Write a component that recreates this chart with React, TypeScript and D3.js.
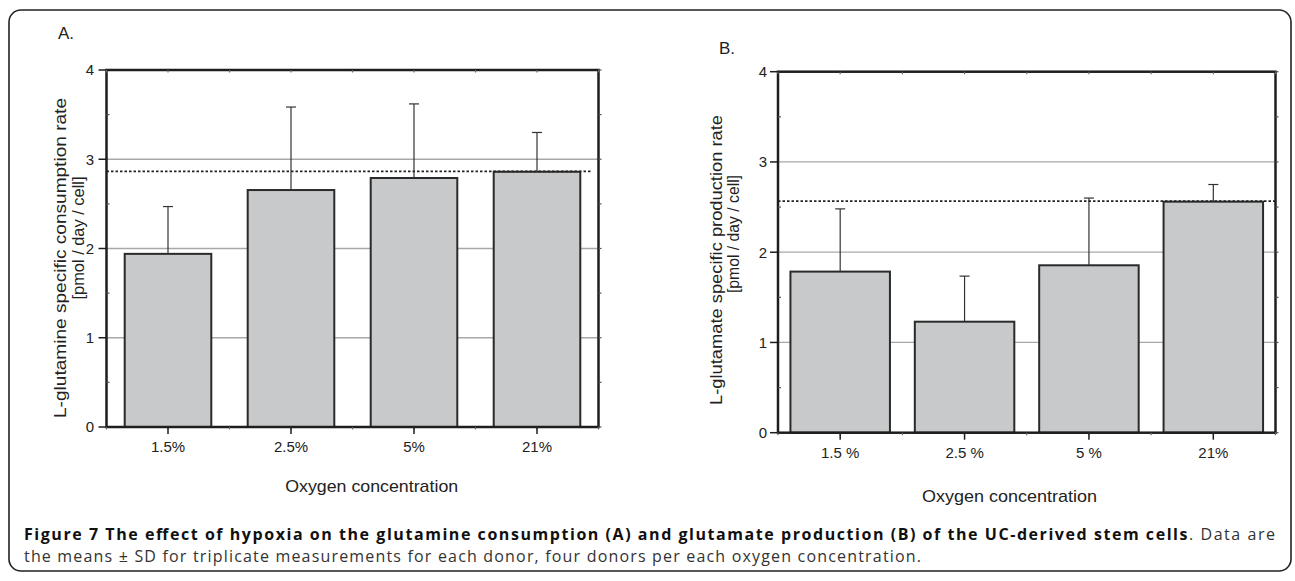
import React from "react";
import * as d3 from "d3";

// ---- data ----
const categoriesA = ["1.5%", "2.5%", "5%", "21%"];
const meansA = [1.94, 2.655, 2.79, 2.86];
const sdA = [0.53, 0.93, 0.83, 0.44];
const referenceA = 2.865;

const categoriesB = ["1.5 %", "2.5 %", "5 %", "21%"];
const meansB = [1.785, 1.23, 1.855, 2.56];
const sdB = [0.695, 0.505, 0.745, 0.19];
const referenceB = 2.567;

const yTicks = [0, 1, 2, 3, 4];
const gridValues = [1, 2, 3];
const minorValues = [0.5, 1.5, 2.5, 3.5];
const yTitleA = ["L-glutamine specific consumption rate", "[pmol / day / cell]"];
const yTitleB = ["L-glutamate specific production rate", "[pmol / day / cell]"];
const xTitle = "Oxygen concentration";

const CHART_FONT = "'Liberation Sans', Arial, Helvetica, sans-serif";
const CAPTION_FONT = "'Open Sans', 'Noto Sans', sans-serif";

type PanelProps = {
  left: number; right: number; top: number; bottom: number;
  categories: string[]; means: number[]; sds: number[]; reference: number;
  refEnd: number; padding: number; tickLabelX: number; xLabelBaseline: number;
  titles: { text: string; x: number; y: number; len: number }[];
  xTitlePos: { x: number; y: number; len: number };
  label: { text: string; x: number; y: number };
};

function Panel(p: PanelProps) {
  const x = d3.scaleBand<string>().domain(p.categories).range([p.left, p.right])
    .paddingInner(p.padding).paddingOuter(p.padding / 2);
  const y = d3.scaleLinear().domain([0, 4]).range([p.bottom, p.top]);
  const step = x.step();
  const halfSteps = d3.range(0, p.categories.length * 2 + 1).map((i) => p.left + (i * step) / 2);
  const centers = p.categories.map((c) => (x(c) as number) + x.bandwidth() / 2);
  return (
    <g>
      <text x={p.label.x} y={p.label.y} fontSize={17} fontFamily={CHART_FONT} fill="#222">{p.label.text}</text>
      {gridValues.map((v) => (
        <line key={"g" + v} x1={p.left} x2={p.right} y1={y(v)} y2={y(v)} stroke="#a8a8a8" strokeWidth={1.3} />
      ))}
      {p.categories.map((c, i) => (
        <rect key={"b" + c} x={x(c)} y={y(p.means[i])} width={x.bandwidth()} height={y(0) - y(p.means[i])}
          fill="#c8c9cb" stroke="#2a2a2a" strokeWidth={2} />
      ))}
      {p.categories.map((c, i) => {
        const cx = centers[i];
        const yt = y(p.means[i] + p.sds[i]);
        return (
          <g key={"e" + c} stroke="#333" strokeWidth={1.2}>
            <line x1={cx} x2={cx} y1={y(p.means[i])} y2={yt} />
            <line x1={cx - 5} x2={cx + 5} y1={yt} y2={yt} />
          </g>
        );
      })}
      <line x1={p.left} x2={p.refEnd} y1={y(p.reference)} y2={y(p.reference)} stroke="#222"
        strokeWidth={1.8} strokeDasharray="2.5 2" />
      {/* frame */}
      <rect x={p.left} y={p.top} width={p.right - p.left} height={p.bottom - p.top} fill="none" stroke="#1e1e1e" strokeWidth={2.5} />
      {/* left major ticks */}
      {yTicks.map((v) => (
        <g key={"yt" + v}>
          <line x1={p.left - 8} x2={p.left} y1={y(v)} y2={y(v)} stroke="#1e1e1e" strokeWidth={1.5} />
          <text x={p.tickLabelX} y={y(v)} dy="0.36em" textAnchor="end" fontSize={15} fontFamily={CHART_FONT} fill="#222">{v}</text>
          <line x1={p.right} x2={p.right + 3} y1={y(v)} y2={y(v)} stroke="#555" strokeWidth={1.2} />
        </g>
      ))}
      {minorValues.map((v) => (
        <g key={"mt" + v} stroke="#555" strokeWidth={1.2}>
          <line x1={p.left} x2={p.left + 3} y1={y(v)} y2={y(v)} />
          <line x1={p.right} x2={p.right + 3} y1={y(v)} y2={y(v)} />
        </g>
      ))}
      {halfSteps.map((hx, i) => (
        <g key={"hs" + i} stroke="#666" strokeWidth={1.2}>
          <line x1={hx} x2={hx} y1={p.top} y2={p.top + 2.5} />
          <line x1={hx} x2={hx} y1={p.bottom} y2={p.bottom + 2.5} />
        </g>
      ))}
      {p.categories.map((c, i) => (
        <g key={"xt" + c}>
          <line x1={centers[i]} x2={centers[i]} y1={p.bottom} y2={p.bottom + 7} stroke="#1e1e1e" strokeWidth={1.5} />
          <text x={centers[i]} y={p.xLabelBaseline} textAnchor="middle" fontSize={15} fontFamily={CHART_FONT} fill="#222">{c}</text>
        </g>
      ))}
      {p.titles.map((t, i) => (
        <text key={"yt" + i} x={t.x} y={t.y} transform={`rotate(-90 ${t.x} ${t.y})`} textAnchor="middle"
          fontSize={17} fontFamily={CHART_FONT} fill="#222" textLength={t.len} lengthAdjust="spacingAndGlyphs">{t.text}</text>
      ))}
      <text x={p.xTitlePos.x} y={p.xTitlePos.y} textAnchor="middle" fontSize={17} fontFamily={CHART_FONT} fill="#222"
        textLength={p.xTitlePos.len} lengthAdjust="spacingAndGlyphs">{xTitle}</text>
    </g>
  );
}

export default function App() {
  return (
    <svg width={1295} height={581} viewBox="0 0 1295 581" style={{ position: "absolute", left: 0, top: 0, background: "#fff" }}>
      <rect x={0} y={0} width={1295} height={581} fill="#fff" />
      <rect x={9} y={10} width={1282} height={561} rx={12} ry={12} fill="none" stroke="#222" strokeWidth={1.6} />
      <Panel left={106.5} right={598.5} top={70} bottom={427} categories={categoriesA} means={meansA} sds={sdA}
        reference={referenceA} refEnd={591} padding={0.296} tickLabelX={94} xLabelBaseline={452}
        titles={[{ text: yTitleA[0], x: 66, y: 258, len: 320 }, { text: yTitleA[1], x: 84, y: 238, len: 123 }]}
        xTitlePos={{ x: 371.7, y: 492, len: 173 }} label={{ text: "A.", x: 58, y: 39 }} />
      <Panel left={778} right={1275.5} top={71.7} bottom={432.7} categories={categoriesB} means={meansB} sds={sdB}
        reference={referenceB} refEnd={1275.5} padding={0.2} tickLabelX={767} xLabelBaseline={458}
        titles={[{ text: yTitleB[0], x: 722, y: 260, len: 290 }, { text: yTitleB[1], x: 739, y: 234, len: 118 }]}
        xTitlePos={{ x: 1009.6, y: 502, len: 175 }} label={{ text: "B.", x: 719, y: 54 }} />
      <text x={24} y={540} fontSize={16} fontFamily={CAPTION_FONT} fill="#111" textLength={1251} lengthAdjust="spacing">
        <tspan fontWeight="bold">Figure 7 The effect of hypoxia on the glutamine consumption (A) and glutamate production (B) of the UC-derived stem cells</tspan>
        <tspan fill="#333">. Data are</tspan>
      </text>
      <text x={24} y={562} fontSize={16} fontFamily={CAPTION_FONT} fill="#333" textLength={897} lengthAdjust="spacing">
        the means ± SD for triplicate measurements for each donor, four donors per each oxygen concentration.
      </text>
    </svg>
  );
}
